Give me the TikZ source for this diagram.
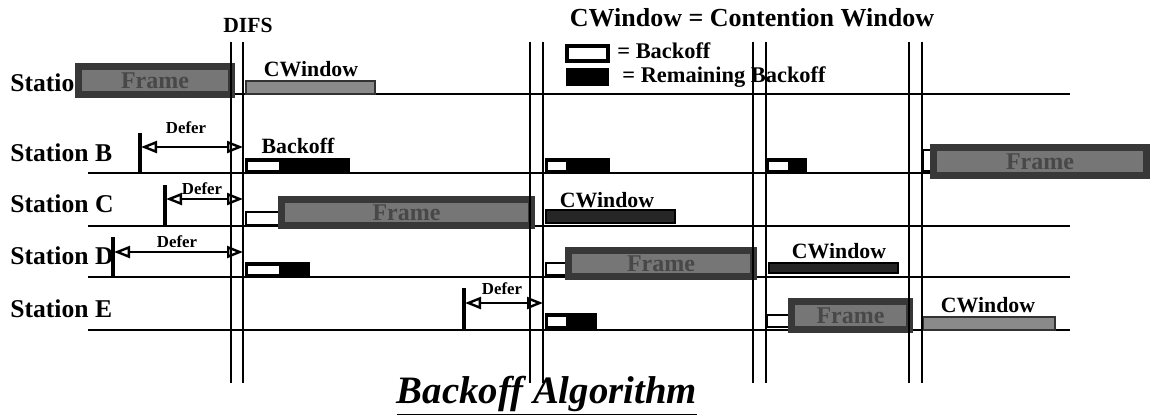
\documentclass[tikz,border=0pt]{standalone}
\usepackage{fontspec}
\setmainfont{Liberation Serif}
\usetikzlibrary{arrows.meta}
\definecolor{frmout}{RGB}{56,56,56}
\definecolor{frmin}{RGB}{118,118,118}
\definecolor{frmtxt}{RGB}{72,72,72}
\definecolor{cwlight}{RGB}{138,138,138}
\definecolor{cwdark}{RGB}{38,38,38}
\tikzset{
    station/.style={anchor=base west, inner sep=0pt, font=\fontsize{12.8}{15}\selectfont\bfseries},
    lbl/.style={anchor=base, inner sep=0pt, font=\fontsize{10.9}{13}\selectfont\bfseries},
    legend/.style={anchor=base west, inner sep=0pt, font=\fontsize{11.2}{13}\selectfont\bfseries},
    deferlbl/.style={inner sep=0pt, font=\fontsize{8.4}{10}\selectfont\bfseries},
    timeline/.style={line width=1.4pt},
    difs/.style={line width=1.4pt},
    defertick/.style={line width=2pt},
    defer/.style={{Triangle[open, length=8pt, width=6pt]}-{Triangle[open, length=8pt, width=6pt]}, line width=1.2pt},
    frmbox/.style={draw=frmout, line width=3.5pt, fill=frmin},
    frmlbl/.style={font=\fontsize{12}{14}\selectfont\bfseries, text=frmtxt},
    boff/.style={draw=black, line width=1.3pt, fill=white},
    remain/.style={fill=black},
    cwin/.style={draw=black!80, line width=0.8pt, fill=cwlight},
    cwinrem/.style={draw=black, line width=0.8pt, fill=cwdark}
}

\begin{document}
\begin{tikzpicture}[x=0.5pt, y=-0.5pt]
    \useasboundingbox (0,0) rectangle (1156,419);

    % stations
    \node[station] (stA) at (10,91) {Station A};
    \node[station] (stB) at (10,161) {Station B};
    \node[station] (stC) at (10,212) {Station C};
    \node[station] (stD) at (10,264) {Station D};
    \node[station] (stE) at (10,317) {Station E};
    \foreach \y/\n in {94/A,173/B,226/C,277/D,330/E}
        \draw[timeline] (88,\y) coordinate (s\n) -- (1070,\y) coordinate (e\n);

    % defer periods
    \draw[defertick] (140,133) -- (140,173);
    \draw[defertick] (165,185) -- (165,226);
    \draw[defertick] (113,237) -- (113,277);
    \draw[defertick] (464,288) -- (464,330);
    \coordinate (dlB) at (141,147);  \coordinate (drB) at (243,147);
    \coordinate (dlC) at (166,199);  \coordinate (drC) at (243,199);
    \coordinate (dlD) at (114,252);  \coordinate (drD) at (243,252);
    \coordinate (dlE) at (465,303);  \coordinate (drE) at (543,303);
    \draw[defer] (dlB) -- (drB);
    \draw[defer] (dlC) -- (drC);
    \draw[defer] (dlD) -- (drD);
    \draw[defer] (dlE) -- (drE);
    \node[deferlbl] (dfB) at (186,128) {Defer};
    \node[deferlbl] (dfC) at (202,189) {Defer};
    \node[deferlbl] (dfD) at (177,242) {Defer};
    \node[deferlbl] (dfE) at (502,289) {Defer};

    % backoff and remaining backoff
    \fill[remain] (245,158) rectangle (350,173);
    \fill[white] (248,162) rectangle (279,170);
    \fill[remain] (545,158) rectangle (610,173);
    \fill[white] (548,162) rectangle (566,170);
    \fill[remain] (766,158) rectangle (807,173);
    \fill[white] (769,162) rectangle (788,170);
    \fill[remain] (245,262) rectangle (310,277);
    \fill[white] (248,266) rectangle (279,274);
    \fill[remain] (545,313) rectangle (597,330);
    \fill[white] (548,317) rectangle (566,326);
    \draw[boff] (923,150) rectangle (931,171);
    \draw[boff] (246,212) rectangle (279,225);
    \draw[boff] (546,263) rectangle (566,275);
    \draw[boff] (767,315) rectangle (789,327);
    \node[lbl] (bkB) at (298,153) {Backoff};

    % contention windows
    \draw[cwin] (246,81) rectangle (375,94);
    \draw[cwinrem] (546,210) rectangle (675,223);
    \draw[cwinrem] (769,263) rectangle (898,273);
    \draw[cwin] (923,317) rectangle (1055,330);
    \node[lbl] (cwA) at (311,76) {CWindow};
    \node[lbl] (cwC) at (607,207) {CWindow};
    \node[lbl] (cwD) at (839,258) {CWindow};
    \node[lbl] (cwE) at (988,312) {CWindow};

    % frames
    \draw[frmbox] (78.5,66.5) rectangle node[frmlbl] (frA) {Frame} (231.5,94.5);
    \draw[frmbox] (933.5,147.5) rectangle node[frmlbl] (frB) {Frame} (1146.5,175.5);
    \draw[frmbox] (281.5,199.5) rectangle node[frmlbl] (frC) {Frame} (531.5,225.5);
    \draw[frmbox] (568.5,250.5) rectangle node[frmlbl] (frD) {Frame} (753.5,276.5);
    \draw[frmbox] (791.5,301.5) rectangle node[frmlbl] (frE) {Frame} (909.5,329.5);

    % DIFS lines
    \foreach \x [count=\i] in {231,243,530,543,753,766,909,922}
        \draw[difs] (\x,42) coordinate (dt\i) -- (\x,383) coordinate (db\i);

    % headings and key
    \node[lbl, font=\fontsize{10.8}{13}\selectfont\bfseries] (difs) at (248,32) {DIFS};
    \node[lbl, font=\fontsize{13}{15}\selectfont\bfseries] (head) at (752,26) {CWindow = Contention Window};
    \draw[boff, line width=1.8pt] (567,46) rectangle (608,61);
    \fill[remain] (566,68) rectangle (609,86);
    \node[legend] (lgB) at (617,58) {= Backoff};
    \node[legend] (lgR) at (622,82) {= Remaining Backoff};
    \node[lbl, font=\fontsize{19.4}{22}\selectfont\bfseries\itshape] (title) at (547,403) {\underline{Backoff Algorithm}};
\end{tikzpicture}
\end{document}
